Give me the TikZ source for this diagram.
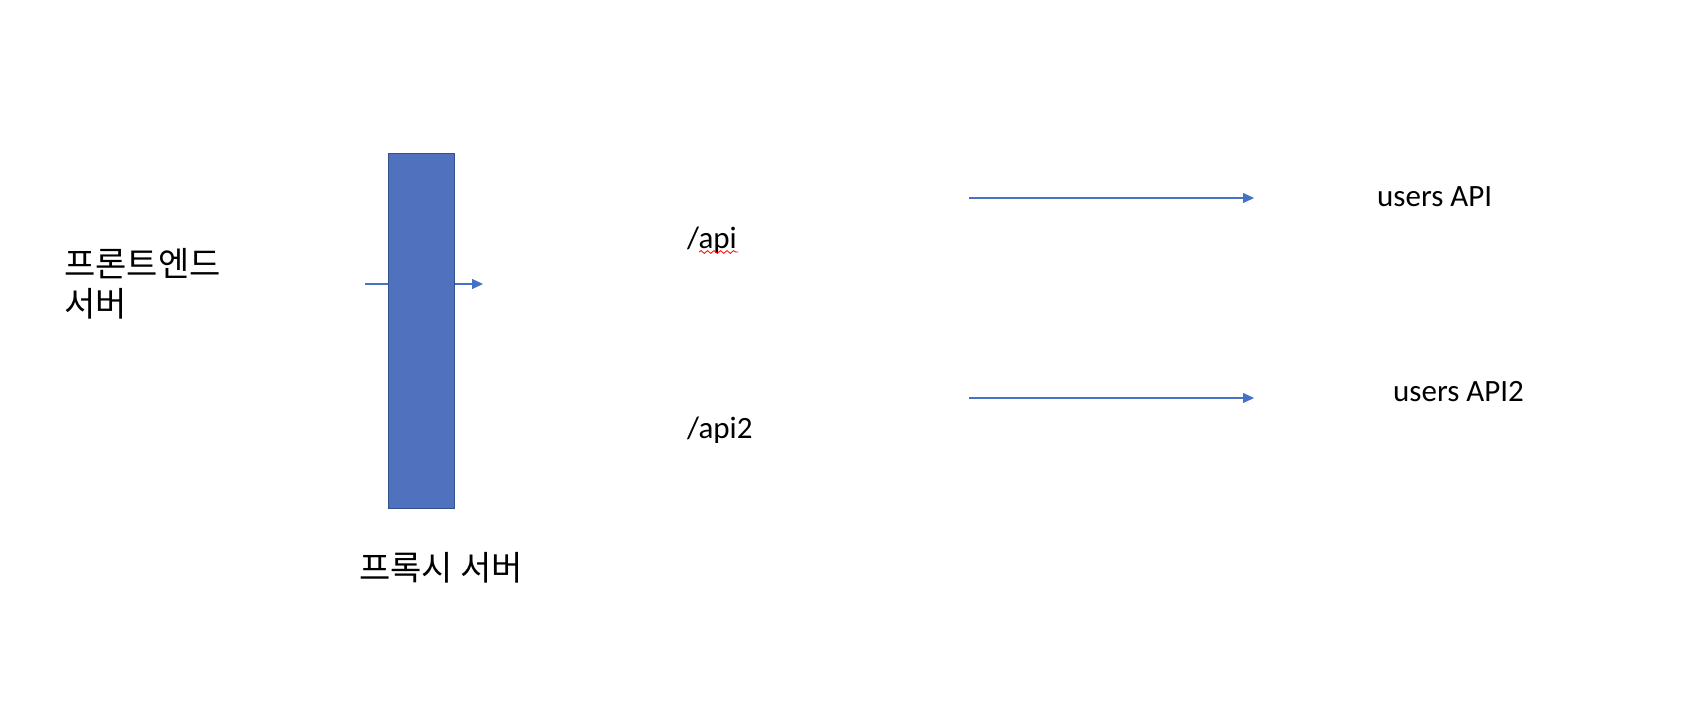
\documentclass[tikz,border=0pt]{standalone}
\usepackage{fontspec}
\setmainfont{Carlito}
\newfontfamily\kr{Noto Sans CJK KR}
\usetikzlibrary{arrows.meta,decorations.pathmorphing}
\definecolor{boxblue}{HTML}{4F71BE}
\definecolor{boxedge}{HTML}{2F528F}
\definecolor{arrowblue}{HTML}{4472C4}
\tikzset{
  lbl/.style={inner sep=0pt, font=\fontsize{31}{37}\selectfont},
  krlbl/.style={inner sep=0pt, font=\kr\fontsize{34}{40}\selectfont, align=left},
  flow/.style={draw=arrowblue, line width=1.1pt, -{Triangle[length=11pt,width=10pt]}},
  proxybox/.style={draw=boxedge, fill=boxblue, line width=1.3pt, inner sep=0pt}
}
\begin{document}
\begin{tikzpicture}[x=1pt,y=-1pt]
\useasboundingbox (0,0) rectangle (1702,704);
% proxy server box
\coordinate (inL) at (365,284);
\coordinate (outR) at (483,284);
\draw[flow] (inL) -- (outR);
\node[proxybox, minimum width=66pt, minimum height=355pt, anchor=north west] (proxy) at (388,153) {};
% labels
\node[krlbl, anchor=north west] (front) at (64,248) {프론트엔드\\서버};
\node[krlbl, anchor=base west] (proxylbl) at (359,580) {프록시 서버};
\node[lbl, anchor=base west] (api) at (687,248) {/api};
\node[lbl, anchor=base west] (api2) at (687,438) {/api2};
\node[lbl, anchor=base west] (users) at (1377,206) {users API};
\node[lbl, anchor=base west] (users2) at (1393,401) {users API2};
% spell-check underline
\coordinate (sq1) at (699,252);
\coordinate (sq2) at (738,252);
\draw[red, line width=0.8pt, decorate, decoration={snake, amplitude=1.4pt, segment length=6.5pt}] (sq1) -- (sq2);
% route arrows
\coordinate (a1s) at (969,198);
\coordinate (a1e) at (1254,198);
\coordinate (a2s) at (969,398);
\coordinate (a2e) at (1254,398);
\draw[flow] (a1s) -- (a1e);
\draw[flow] (a2s) -- (a2e);
\end{tikzpicture}
\end{document}
